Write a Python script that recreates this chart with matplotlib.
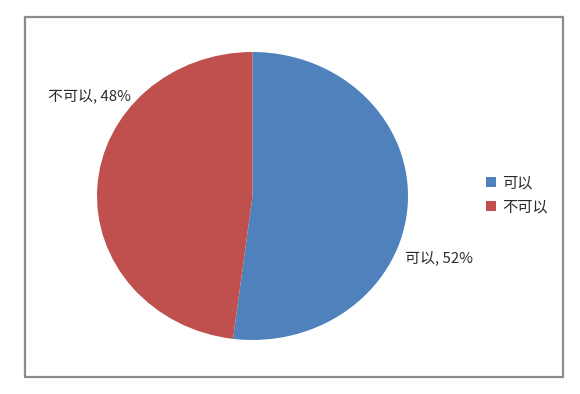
import matplotlib.pyplot as plt
from matplotlib.patches import Rectangle

plt.rcParams['font.family'] = ['Noto Sans CJK SC', 'DejaVu Sans']

labels = ['可以', '不可以']
shares = [52, 48]
colors = ['#4F81BD', '#C0504D']

W, H = 580, 394
fig = plt.figure(figsize=(W / 100, H / 100), dpi=100)

# chart border
fig.patches.append(Rectangle((24.5 / W, 1 - 376.5 / H), 538 / W, 360 / H,
                             transform=fig.transFigure, fill=False,
                             edgecolor='#8c8c8c', linewidth=1.6))

# pie area (slightly elliptical like the original)
ax = fig.add_axes([97 / W, 1 - 340 / H, 311 / W, 288 / H])
wedges, _ = ax.pie(shares, colors=colors, startangle=90, counterclock=False,
                   radius=1, wedgeprops=dict(linewidth=0))
ax.set_aspect('auto')
ax.set_xlim(-1, 1)
ax.set_ylim(-1, 1)
ax.axis('off')

# data labels
fig.text(48 / W, 1 - 96 / H, f'{labels[1]}, {shares[1]}%', fontsize=10.8,
         va='center', ha='left', color='#2b2b2b')
fig.text(405 / W, 1 - 258 / H, f'{labels[0]}, {shares[0]}%', fontsize=10.8,
         va='center', ha='left', color='#2b2b2b')

fig.legend(wedges, labels, loc='center left', bbox_to_anchor=(472 / W, 1 - 195 / H),
           frameon=False, fontsize=11, handlelength=0.65, handleheight=0.65,
           handletextpad=0.45, labelspacing=0.45, labelcolor='#2b2b2b')

fig.savefig('out.png', dpi=100)
